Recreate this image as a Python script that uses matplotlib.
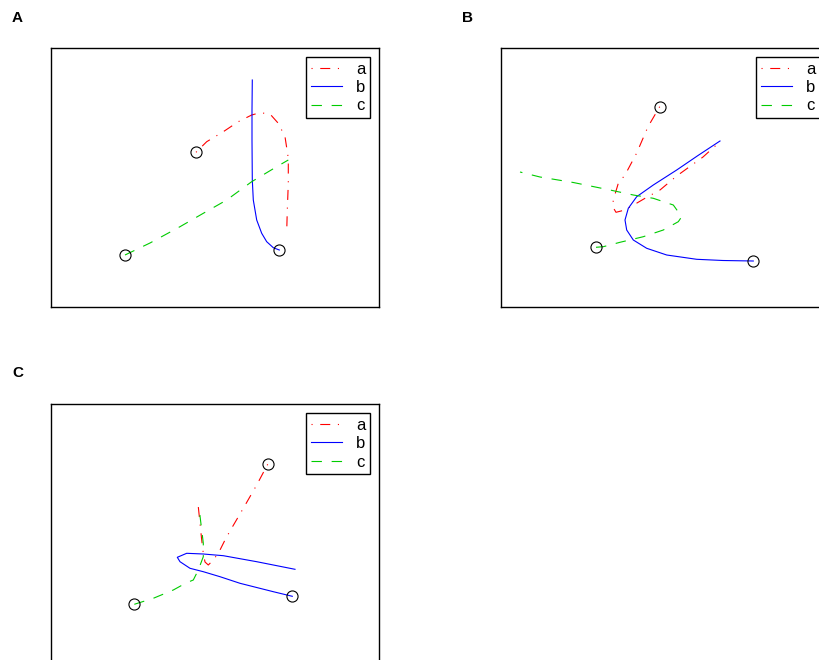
import matplotlib
matplotlib.use("Agg")
import matplotlib.pyplot as plt

plt.rcParams['font.family'] = ['Liberation Sans', 'DejaVu Sans']
plt.rcParams['lines.scale_dashes'] = False

W, H = 819, 660

# Panel data (coordinates, in panel pixel units)
A_a_x = [196, 206.7, 223.3, 238.3, 251.7, 260, 270, 278.3, 285, 288.3, 288.3, 287.3, 286.7]
A_a_y = [152.3, 141.7, 131.7, 121.7, 115, 112.7, 114, 123.3, 136.7, 158.3, 183.3, 210, 231.7]
A_b_x = [279.3, 273.3, 266.7, 261.7, 256.7, 253.3, 252.3, 252, 252, 252.3]
A_b_y = [250, 247.7, 241.7, 233.3, 220, 200, 180, 140, 110, 80]
A_c_x = [125, 150, 180, 203.3, 226.7, 251.7, 276.7, 288.3]
A_c_y = [255, 243, 226.7, 213.3, 200, 181.7, 166.7, 160]

B_a_x = [659.7, 648, 636.7, 625, 618.3, 613.3, 612.7, 616, 625, 646.7, 660, 676.7, 703, 720]
B_a_y = [106.7, 126.7, 153, 175, 183.3, 200, 206.7, 212.3, 210, 197.3, 190, 176, 157, 141.7]
B_b_x = [753.3, 723, 696.7, 666.7, 646.7, 633.3, 626.7, 625, 628.3, 636.7, 653.3, 676.7, 698, 720]
B_b_y = [261, 260.5, 259.3, 255, 248.3, 240, 230, 220, 208.3, 196.7, 185, 170, 155.5, 141]
B_c_x = [596, 603.3, 620, 643.3, 663.3, 678.3, 681.7, 673.3, 653.3, 633.3, 610, 573.3, 540, 520]
B_c_y = [247.3, 246.7, 242.3, 236.7, 230, 221.7, 216.7, 205, 198.3, 195, 190, 182.5, 177, 172]

C_a_x = [267.7, 256.7, 243.3, 230, 225, 219, 213.3, 208.3, 205, 203.3, 201.7, 200, 198.3]
C_a_y = [464.3, 485, 508.3, 531, 540, 552, 560, 565, 562, 553.3, 540, 523.3, 506.7]
C_b_x = [292.3, 273.3, 240, 220, 203.3, 190, 180, 177.3, 186.7, 203.3, 223.3, 256.7, 295]
C_b_y = [596.3, 591.7, 583.3, 576.7, 571.7, 568.3, 561.7, 557.3, 553.3, 554, 555.7, 561.7, 569.3]
C_c_x = [134.3, 153.3, 173.3, 186, 193.3, 198.3, 203.3, 203.3, 201.7, 199.3]
C_c_y = [604.3, 598.3, 590, 583, 580, 570, 556.7, 543.3, 530, 510]

panels = [
    ("A", (51, 48), (A_a_x, A_a_y), (A_b_x, A_b_y), (A_c_x, A_c_y)),
    ("B", (501, 48), (B_a_x, B_a_y), (B_b_x, B_b_y), (B_c_x, B_c_y)),
    ("C", (51, 404), (C_a_x, C_a_y), (C_b_x, C_b_y), (C_c_x, C_c_y)),
]
series_labels = ["a", "b", "c"]
label_pos = [(12, 18), (462, 18), (12, 373)]

AW, AH = 328, 259

fig = plt.figure(figsize=(W / 100, H / 100), dpi=100)

for (name, (lx, ty), a, b, c), (px, py) in zip(panels, label_pos):
    ax = fig.add_axes([lx / W, 1 - (ty + AH) / H, AW / W, AH / H])
    ax.set_xlim(lx, lx + AW)
    ax.set_ylim(ty + AH, ty)
    la, = ax.plot(a[0], a[1], color='#ff0000', lw=0.8, dashes=(0.8, 5.5, 7.2, 5.5))
    lb, = ax.plot(b[0], b[1], color='#0000ff', lw=0.8)
    lc, = ax.plot(c[0], c[1], color='#00cc00', lw=0.8, dashes=(7.5, 7))
    for s in (a, b, c):
        ax.plot(s[0][0], s[1][0], 'o', ms=8, mfc='none', mec='black', mew=0.8)
    ax.set_xticks([])
    ax.set_yticks([])
    for sp in ax.spines.values():
        sp.set_linewidth(1.0)
    leg = ax.legend([la, lb, lc], series_labels, loc='upper right',
                    fontsize=12, frameon=True, fancybox=False,
                    edgecolor='black', framealpha=1, handlelength=1.9,
                    handletextpad=0.8, labelspacing=0.2, borderpad=0.28,
                    borderaxespad=0.55)
    leg.get_frame().set_linewidth(1.0)
    fig.text(px / W, 1 - py / H, name, fontsize=11, fontweight='bold',
             ha='left', va='center')

fig.savefig("out.png", dpi=100)
